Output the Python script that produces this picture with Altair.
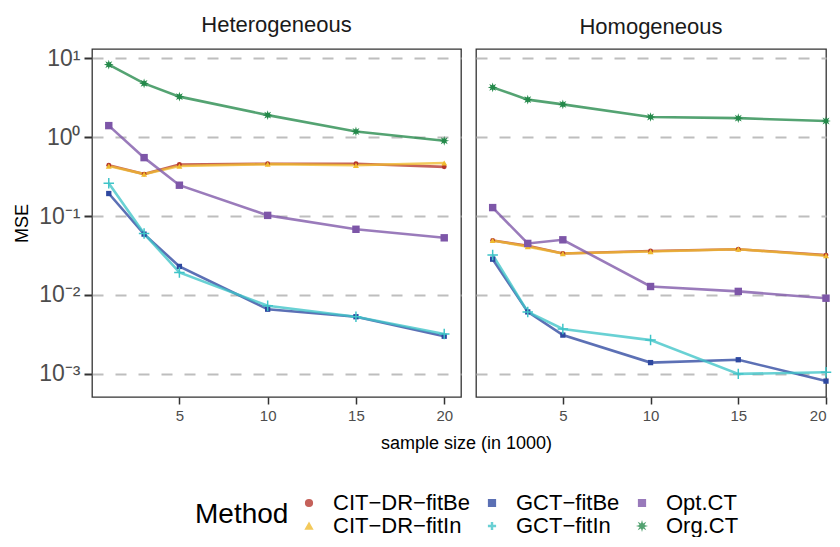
import altair as alt
import pandas as pd
import math

panels = ["Heterogeneous", "Homogeneous"]
methods = ["CIT−DR−fitBe", "CIT−DR−fitIn", "GCT−fitBe", "GCT−fitIn", "Opt.CT", "Org.CT"]
sizes = [1, 3, 5, 10, 15, 20]

mse = {
    "Heterogeneous": {
        "CIT−DR−fitBe": [0.44, 0.34, 0.45, 0.46, 0.46, 0.42],
        "CIT−DR−fitIn": [0.43, 0.34, 0.43, 0.455, 0.44, 0.47],
        "GCT−fitBe": [0.193, 0.059, 0.023, 0.0066, 0.0053, 0.0030],
        "GCT−fitIn": [0.26, 0.060, 0.0193, 0.0073, 0.0053, 0.0032],
        "Opt.CT": [1.4, 0.55, 0.246, 0.102, 0.068, 0.053],
        "Org.CT": [8.3, 4.8, 3.26, 1.9, 1.18, 0.90],
    },
    "Homogeneous": {
        "CIT−DR−fitBe": [0.049, 0.042, 0.0335, 0.036, 0.038, 0.032],
        "CIT−DR−fitIn": [0.049, 0.041, 0.0335, 0.0355, 0.038, 0.0315],
        "GCT−fitBe": [0.0284, 0.0061, 0.0031, 0.00139, 0.00151, 0.00081],
        "GCT−fitIn": [0.0322, 0.0061, 0.0037, 0.00268, 0.00100, 0.00105],
        "Opt.CT": [0.128, 0.045, 0.050, 0.0128, 0.0111, 0.0091],
        "Org.CT": [4.27, 2.99, 2.6, 1.8, 1.74, 1.6],
    },
}

colors = ["#B5362C", "#F0BB2E", "#2E48A0", "#3FC4C8", "#7D56A8", "#24894A"]

plus = ("M-1,-0.14L-0.14,-0.14L-0.14,-1L0.14,-1L0.14,-0.14L1,-0.14L1,0.14L0.14,0.14"
        "L0.14,1L-0.14,1L-0.14,0.14L-1,0.14Z")
pts = []
for k in range(16):
    ang = math.pi / 8 * k - math.pi / 2
    r = 1.0 if k % 2 == 0 else 0.45
    pts.append(f"{r*math.cos(ang):.3f},{r*math.sin(ang):.3f}")
star = "M" + "L".join(pts) + "Z"
shapes = ["circle", "triangle-up", "square", plus, "square", star]
psizes = [24, 36, 28, 110, 55, 95]

rows = []
for p in panels:
    for i, m in enumerate(methods):
        for n, v in zip(sizes, mse[p][m]):
            rows.append({"panel": p, "method": m, "n": n, "mse": v, "psize": psizes[i]})
df = pd.DataFrame(rows)

legend_order = ["CIT−DR−fitBe", "GCT−fitBe", "Opt.CT", "CIT−DR−fitIn", "GCT−fitIn", "Org.CT"]
lc = [colors[methods.index(m)] for m in legend_order]
ls = [shapes[methods.index(m)] for m in legend_order]

ylab = ("datum.value < 0.005 ? '10⁻³' : datum.value < 0.05 ? '10⁻²' : "
        "datum.value < 0.5 ? '10⁻¹' : datum.value < 5 ? '10⁰' : '10¹'")

ydom = [10 ** -3.293, 10 ** 1.117]
yvals = [0.001, 0.01, 0.1, 1, 10]

legend = alt.Legend(title="Method", orient="none", legendX=103, legendY=443,
                    direction="horizontal", columns=3, titleOrient="left",
                    titleFontSize=28, titleFontWeight="normal", labelFontSize=22,
                    titleColor="black", labelColor="black", symbolSize=45,
                    columnPadding=11, rowPadding=1, labelOffset=13, titlePadding=9,
                    titleBaseline="middle")
color = alt.Color("method:N", scale=alt.Scale(domain=legend_order, range=lc), legend=legend)
shape = alt.Shape("method:N", scale=alt.Scale(domain=legend_order, range=ls), legend=legend)


def panel(name, width, xmax, left):
    x = alt.X("n:Q", scale=alt.Scale(domain=[0.05, xmax], nice=False, zero=False),
              axis=alt.Axis(values=[5, 10, 15, 20], grid=False,
                            title="sample size (in 1000)" if left else None,
                            titleX=374, titleY=37, labelFlush=not left,
                            labelFontSize=15, labelColor="#4D4D4D", tickColor="#333333",
                            tickSize=7, tickWidth=1.5, domain=False, titleFontSize=18,
                            titleFontWeight="normal", titleColor="black", labelPadding=4))
    if left:
        yax = alt.Axis(values=yvals, grid=True, gridDash=[11, 12], gridColor="#BEBEBE",
                       gridWidth=2, labelExpr=ylab, labelFontSize=23, labelColor="#4D4D4D",
                       tickColor="#333333", tickSize=8, tickWidth=2, domain=False,
                       title="MSE", titleFontSize=18, titleFontWeight="normal",
                       titleColor="black", labelPadding=4, titlePadding=7)
    else:
        yax = alt.Axis(values=yvals, grid=True, gridDash=[11, 12], gridColor="#BEBEBE",
                       gridWidth=2, labels=False, ticks=False, domain=False, title=None)
    y = alt.Y("mse:Q", scale=alt.Scale(type="log", domain=ydom, nice=False), axis=yax)
    base = alt.Chart(df).transform_filter(alt.datum.panel == name).encode(x=x, y=y, color=color)
    lines = base.mark_line(strokeWidth=2.6, opacity=0.78)
    points = base.mark_point(filled=True, opacity=1).encode(
        shape=shape, size=alt.Size("psize:Q", scale=None))
    return alt.layer(lines, points).properties(
        width=width, height=348,
        title=alt.TitleParams(name, fontSize=22, fontWeight="normal", color="#1A1A1A",
                              offset=10, anchor="middle"))


left = panel("Heterogeneous", 369, 20.95, True)
right = panel("Homogeneous", 350, 20.0, False)

chart = alt.hconcat(left, right, spacing=15, bounds="flush").resolve_scale(
    x="independent", y="shared", color="shared", shape="shared"
).properties(padding={"left": 5, "top": 5, "right": 0, "bottom": 0}).configure(
    font="Liberation Sans").configure_view(stroke="#333333", strokeWidth=1.3)

chart.save("out.html", embed_options={"renderer": "svg", "actions": False})
